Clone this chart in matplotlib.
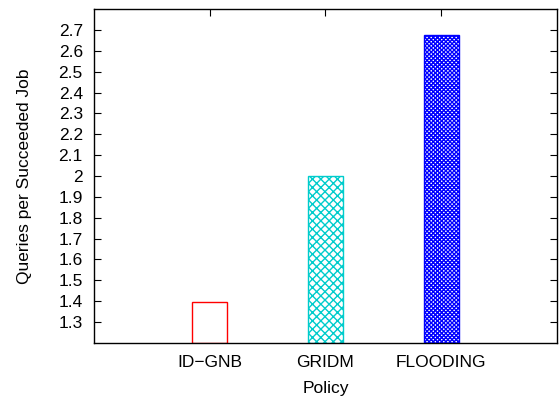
import matplotlib
matplotlib.use("Agg")
import matplotlib.pyplot as plt
import numpy as np

plt.rcParams['font.family'] = ['Liberation Sans', 'DejaVu Sans']
plt.rcParams['hatch.linewidth'] = 1.0

policies = ["ID\u2212GNB", "GRIDM", "FLOODING"]
queries = [1.395, 2.0, 2.677]
colors = ["#ff0000", "#00cccc", "#0000ff"]
hatches = ["", "xxxx", "xxxxxxxx"]
yticks = [1.3, 1.4, 1.5, 1.6, 1.7, 1.8, 1.9, 2.0, 2.1, 2.2, 2.3, 2.4, 2.5, 2.6, 2.7]

fs = 12.5
fig = plt.figure(figsize=(5.59, 3.99), dpi=100)
ax = fig.add_axes([0.168, 0.1404, 0.8284, 0.837])

x = np.arange(1, len(policies) + 1)
ymin = 1.2
for xi, v, c, h in zip(x, queries, colors, hatches):
    ax.bar(xi, v - ymin, bottom=ymin, width=0.3, facecolor="white",
           edgecolor=c, hatch=h, linewidth=1.0, zorder=2)

ax.set_xlim(0, 4)
ax.set_ylim(1.2, 2.8)
ax.set_xticks(x)
ax.set_xticklabels(policies)
ax.set_yticks(yticks)
ax.set_yticklabels([f"{t:g}" for t in yticks])
ax.tick_params(axis="both", direction="in", length=5, width=0.8,
               labelsize=fs, top=True, right=True)
ax.tick_params(axis="y", pad=8)
ax.tick_params(axis="x", pad=9)
for s in ax.spines.values():
    s.set_linewidth(1.0)
    s.set_zorder(3)

ax.set_xlabel("Policy", fontsize=fs)
ax.set_ylabel("Queries per Succeeded Job", fontsize=fs)
ax.yaxis.set_label_coords(-0.134, 0.5)
ax.xaxis.set_label_coords(0.5, -0.113)

fig.savefig("out.png", dpi=100)
